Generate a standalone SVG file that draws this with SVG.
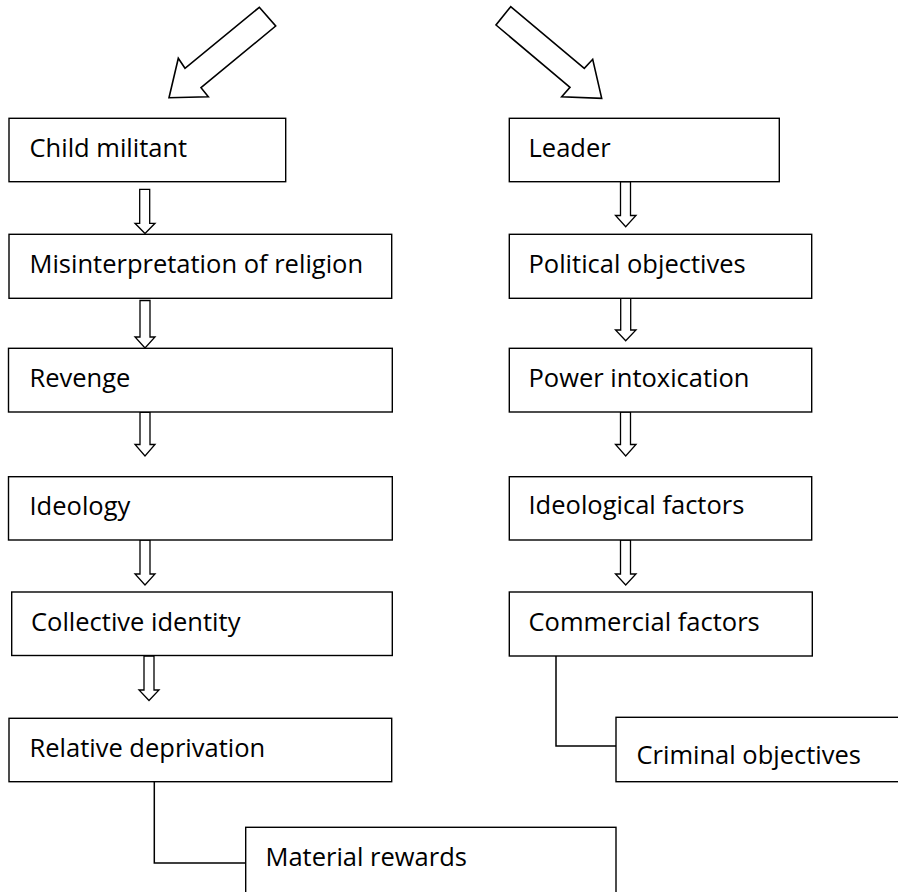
<svg xmlns="http://www.w3.org/2000/svg" width="898" height="892" viewBox="0 0 898 892">
<style>
.box{fill:#fff;stroke:#000;stroke-width:1.4}
.lbl{font-family:"Open Sans","Liberation Sans",sans-serif;font-size:25.5px;fill:#000}
.arr{fill:#fff;stroke:#000;stroke-width:1.3;stroke-linejoin:miter}
.big{fill:#fff;stroke:#000;stroke-width:1.6;stroke-linejoin:miter}
.ln{fill:none;stroke:#000;stroke-width:1.5}
</style>
<rect width="898" height="892" fill="#fff"/>
<g id="connectors">
<polygon class="big" points="259.3,7.3 275.7,26 201,87.7 208.3,96.7 169,97.7 178.3,58.3 185,68.3"/>
<polygon class="big" points="510.7,6.7 496,25 570,87.3 561.7,96.7 601.7,98.3 592.7,59.3 584.3,68.3"/>
<polygon class="arr" points="139.7,189.3 149.7,189.3 149.7,223.3 155,223.3 145,233.5 135,223.3 139.7,223.3"/>
<polygon class="arr" points="140,300.5 150,300.5 150,337 155,337 145,348 135,337 140,337"/>
<polygon class="arr" points="140,412.3 150,412.3 150,444.5 155,444.5 145,456 135,444.5 140,444.5"/>
<polygon class="arr" points="140,540 150,540 150,574 155,574 145,585 135,574 140,574"/>
<polygon class="arr" points="144,656 154,656 154,690 159,690 149,700.5 139,690 144,690"/>
<polygon class="arr" points="620.5,181.7 630.5,181.7 630.5,215.5 636,215.5 625.7,226.7 615.5,215.5 620.5,215.5"/>
<polygon class="arr" points="620.7,298.3 630.7,298.3 630.7,330 636,330 625.7,340.7 615.5,330 620.7,330"/>
<polygon class="arr" points="620.5,412 630.5,412 630.5,444.5 636,444.5 625.7,456 615.5,444.5 620.5,444.5"/>
<polygon class="arr" points="620.5,540 630.5,540 630.5,574 636,574 625.7,585 615.5,574 620.5,574"/>
<polyline class="ln" points="154.3,781.7 154.3,863 245.7,863"/>
<polyline class="ln" points="556,656 556,746 616,746"/>
</g>
<g id="child-militant"><rect class="box" x="9" y="118.3" width="276.7" height="63.4"/><text class="lbl" x="29.5" y="156.7">Child militant</text></g>
<g id="misinterpretation"><rect class="box" x="9" y="234.3" width="382.7" height="64"/><text class="lbl" x="29.5" y="272.5">Misinterpretation of religion</text></g>
<g id="revenge"><rect class="box" x="8.5" y="348.3" width="383.8" height="63.7"/><text class="lbl" x="29.5" y="387.3">Revenge</text></g>
<g id="ideology"><rect class="box" x="8.5" y="476.7" width="383.8" height="63.3"/><text class="lbl" x="29.5" y="515">Ideology</text></g>
<g id="collective-identity"><rect class="box" x="11.7" y="592" width="380.6" height="63.5"/><text class="lbl" x="31" y="631">Collective identity</text></g>
<g id="relative-deprivation"><rect class="box" x="9" y="718.3" width="382.7" height="63.4"/><text class="lbl" x="29.5" y="756.7">Relative deprivation</text></g>
<g id="material-rewards"><rect class="box" x="245.7" y="827.3" width="370.3" height="80"/><text class="lbl" x="265.5" y="866">Material rewards</text></g>
<g id="leader"><rect class="box" x="509.3" y="118.3" width="270" height="63.4"/><text class="lbl" x="528.5" y="157">Leader</text></g>
<g id="political-objectives"><rect class="box" x="509.3" y="234.3" width="302.4" height="64"/><text class="lbl" x="528.5" y="273.3">Political objectives</text></g>
<g id="power-intoxication"><rect class="box" x="509.3" y="348.3" width="302.4" height="63.7"/><text class="lbl" x="528.5" y="387.3">Power intoxication</text></g>
<g id="ideological-factors"><rect class="box" x="509.3" y="476.7" width="302.4" height="63.3"/><text class="lbl" x="528.5" y="513.8">Ideological factors</text></g>
<g id="commercial-factors"><rect class="box" x="509.3" y="592" width="303" height="64"/><text class="lbl" x="528.5" y="631">Commercial factors</text></g>
<g id="criminal-objectives"><rect class="box" x="616" y="717.3" width="290" height="64.4"/><text class="lbl" x="636.5" y="764">Criminal objectives</text></g>
</svg>
